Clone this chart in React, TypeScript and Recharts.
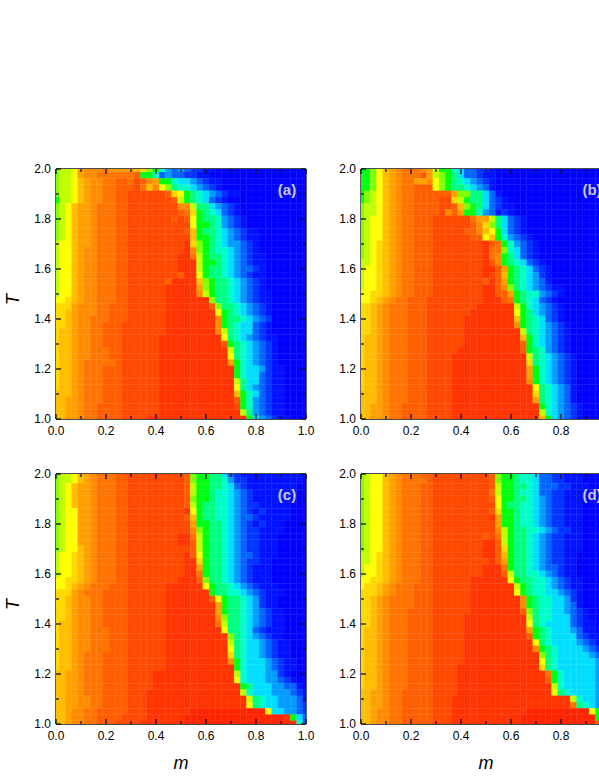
import React from "react";
import { ScatterChart, Scatter, XAxis, YAxis, ReferenceDot } from "recharts";

// Colour level codes used by the panel rows (low -> high)
const LEVEL_CODES = "0123456789abcdefghijkl";
const LEVEL_COLORS = [
  "#0000ff", "#0012ff", "#0034ff", "#0064ff", "#009cff", "#00deff", "#00ffc8", "#00ff80", "#00ff10",
  "#80ff00", "#c0ff00", "#ffff00", "#ffd800", "#ffbc00", "#ffa000", "#ff8c00", "#ff7400", "#ff5e00",
  "#ff4800", "#ff3400", "#ff2400", "#ff1400",
];

const X_TICKS = [0, 0.1, 0.2, 0.3, 0.4, 0.5, 0.6, 0.7, 0.8, 0.9, 1];
const Y_TICKS = [1, 1.1, 1.2, 1.3, 1.4, 1.5, 1.6, 1.7, 1.8, 1.9, 2];
const MAJOR_X = [0, 0.2, 0.4, 0.6, 0.8, 1];
const MAJOR_Y = [1, 1.2, 1.4, 1.6, 1.8, 2];

// 41 rows from T = 2.0 down to T = 1.0; each char = m from 0 to 1 in 0.025 steps; missing = deep blue
const PANEL_A = [
  "9aabefffgeeeedc98643432211",
  "9aabeffggggggh886343322110",
  "9aabdeffgghhgihfe8865543211",
  "9aabdeffgghhhigdfb976654321",
  "9aabdeffgghhiiiiiihcb8765432110",
  "8aabdeffgghhiiiiiiiha8765321",
  "9abdeefggghhiiiiiiiiffa7754321",
  "9abdeefggghhiiiiiiiihgc8765321",
  "9abdeefggghhiiiiiiihihb87764321",
  "9abdeefggghhiiiiiiiiiib88764321",
  "9abdeefggghhiiiiiiiiihd8776543211",
  "9abdeefggghhiiiiiiiiiid8876543211",
  "abbdeefggghhiiiiiiiiijc9876544321",
  "abbdeffggghhiiiiiiiiijf9876654321",
  "abbdeffggghhiiiiiiiijjga8776543211",
  "abbdeffggghhiiiiiiiijjja8876543211",
  "abbdeffggghhiiiiiiiijjja877654332 1",
  "abbdeffggghhiiiiiiiihjjb8776543211",
  "abbdeffggghhiiiiiihjjjjd9877654321",
  "abbdeffggghhiiiiiijjjjje9877654321",
  "abbdeffggghhiiiiiijjjjjfa8776543211",
  "bbcdeffggghhiiiiiijjjjjjj9776543211",
  "cccefffgghhhiiiiiijjjjjjjh977654321",
  "ccdefffgghhhiiiiiijjjjjjjjb87654321",
  "ccdeffggghhhiiiiiijjjjjjjjf87765432",
  "ccdeffgghhhiiiiiiijjjjjjjjf87655321",
  "cddeffgghhhiiiiiiijjjjjjjjfa7655321",
  "cddeffgghhhiiiiiijjjjjjjjjjb76543211",
  "cddeffgghhhiiiiiijjjjjjjjjjh87654321",
  "cddeffggghhiiiiiijjjjjjjjjjja7654321",
  "cddeffggghhiiiiiijjjjjjjjjjjb7654321",
  "cddefggggghiiiiiijjjjjjjjjjje8654321",
  "cddefggghhhiiiiiijjjjjjjjjjjj86554211",
  "cddefggghhhiiiiiijjjjjjjjjjjj86553211",
  "cddefggghhhiiiiiijjjjjjjjjjjja7553211",
  "cddefggghhhiiiiiijjjjjjjjjjjjb7543211",
  "dddefggghhhiiiiiijjjjjjjjjjjjd8653211",
  "ddeefggghhhiiiiiijjjjjjjjjjjjh8643211",
  "ddeefgghhhhiiiiiijjjjjjjjjjjji8643211",
  "ddeefgghhhhiiiiiijjjjjjjjjjjjja743211",
  "ddeefgghhhhiiiijjjjjjjjjjjjjjjj85432110",
];

const PANEL_B = [
  "889bdefgggfea886533221",
  "889bdefggghea9875332110",
  "889bdefggeefb987654321",
  "889bdefgghhhb987765431",
  "89abdefgghhhhhhe9977531",
  "89abdefgghhhhiica8775321",
  "9aabdefgghhhhiihd98753211",
  "9aabdefgghhhhifhe88643121",
  "9abbdefgghhhiiiiiigeea7532 1",
  "9abbdefgghhhiiiiiihfc97532 1",
  "9abbdefgghhhiiiiihhfdb85321",
  "9abbdefgghhhiiiiiihhbd864321",
  "9abcdefgghhhiiiiiiiijhg864321",
  "9abcdefgghhhiiiiiiiijgg965321",
  "9abcdefgghhhiiiiiiiijgf875321",
  "aabcdefgghhhiiiiiiiijhf8765321",
  "abbcdefgghhhiiiiiiiijjhe8765321",
  "abbcdefgghhhiiiiiiiijihd8765421",
  "abbcdefgghhhiiiiiiiihjhe876543 1",
  "abbcdefgghhhiiiiiiiijjhf976543211",
  "bbccdefgghhhiiiiiiiijjhhe87664321",
  "bbcdefgghhhiiiiiiiiijjjhg8765321",
  "ccdefggghhhiiiiiiiijjjjjja8654321",
  "ccdefggghhhiiiiiiijjjjjjjb8754321",
  "ccdefggghhhiiiiiijjjjjjjjd8765321",
  "ccdefggghhhiiiiiijjjjjjjjf87654321",
  "ccdefggghhhiiiiiijjjjjjjjja7654321",
  "cddefggghhhiiiiiijjjjjjjjjd8654321",
  "cddefggghhhiiiiiijjjjjjjjjh8654321",
  "cddefggghhhiiiiijjjjjjjjjjh8764321",
  "cddefggghhhiiiijjjjjjjjjjjja7654321",
  "cddefggghhhiiiijjjjjjjjjjjjc7654321",
  "cddefggghhhiiiijjjjjjjjjjjje8654321",
  "cddefggghhhiiiijjjjjjjjjjjje8654321",
  "cddefggghhhiiiijjjjjjjjjjjjf8654321",
  "cddefggghhhiiiijjjjjjjjjjjjjb765431",
  "dddefggghhhiiiijjjjjjjjjjjjjc765431",
  "dddefggghhhiiiijjjjjjjjjjjjje765431",
  "ddeefgghhhhiiiijjjjjjjjjjjjjj8654321",
  "ddeefgghhhhiiiijjjjjjjjjjjjjja654321",
  "ddeefgghhhhiiiijjjjjjjjjjjjjjd854321",
];

const PANEL_C = [
  "9aabdefggghhiiiiiiiiih98877532111111111100",
  "9aabdefggghhiiiiiiiiih98877642211111111100",
  "9abdeefggghhiiiiiiiiiha8877653211111111000",
  "9abdeefggghhiiiiiiiiiha8876654321111111000",
  "9abdeefggghhiiiiiiiiih98876654321111110000",
  "9abdeefggghhiiiiiiiiiha8776654322111110000",
  "9abbeefggghhiiiiiiiiijb8776654321211110000",
  "9abbeefggghhiiiiiiiiihd8776654332111110000",
  "9abbeefggghhiiiiiiiiiie8877654321211100000",
  "9abbeefggghhiiiiiiiiiif9877654322111100000",
  "9abbeefggghhiiiiiiiijjga877654322111000000",
  "9abbeefggghhiiiiiiiijjha877654322111000000",
  "9abbdefggghhiiiiiiiiiiha877654322111000000",
  "abbcdefggghhiiiiiiiiijhb87765433211100000",
  "abbcdefggghhiiiiiiiiijjc87765432211000000",
  "abbcdefggghhiiiiiiiiijje87765432111000000",
  "abbcdefggghhiiiiiiiiijjg87765432111000000",
  "bbccdefggghhiiiiiiiijjjh97765432111000000",
  "bbcdefggghhhiiiiiijjjjjjb8776543211100000",
  "cccefggghhhhiiiiiijjjjjjj8776654321110000",
  "ccdeffgghhhhiiiiiijjjjjjjhb87765421100000",
  "ccdeffgghhhhiiiiiijjjjjjjje87765421100000",
  "ccdeffgghhhhiiiiiijjjjjjjje87765432110000",
  "ccdeffgghhhhiiiiiijjjjjjjjf97765432110000",
  "cddeffgghhhhiiiiiijjjjjjjjga7765432110000",
  "cddeffggghhhiiiiiijjjjjjjjjb7765321110000",
  "cddeffggghhhiiiiiijjjjjjjjjj976543211000",
  "cddeffggghhhiiiiiijjjjjjjjjja76554321100",
  "cddeffggghhhiiiiiijjjjjjjjjjb76554321100",
  "cddefggghhhhiiiiiijjjjjjjjjjc76554321100",
  "cddefggghhhhiiiiiijjjjjjjjjjf86555432110",
  "cddefggghhhhiiiiiijjjjjjjjjjj86555432110",
  "ddeefggghhhhiiiijjjjjjjjjjjjja6555442100",
  "ddeefggghhhhiiiijjjjjjjjjjjjjb6555443210",
  "ddeefggghhhhiiiijjjjjjjjjjjjjj8755544331",
  "ddeefggghhhhiiijjjjjjjjjjjjjjja6555444321",
  "ddeeffgghhhhiiijjjjjjjjjjjjjjjja765544431",
  "ddeeffgghhhhiiijjjjjjjjjjjjjjjjb765544432",
  "ddeffgghhhhhiiijjjjjjjkkkkkkkkkkkkb554432",
  "ddeffgghhhhiiiijjjjjjkkkkkkkkkkkkkkkkj853",
  "ddeffgghhhiiiijjjjjjjkkkkkkkkkkkkkkkkkj63",
];

const PANEL_D = [
  "9abbdefggghhiiiiiiiiih98876653322111000000",
  "9abbdefgggghiiiiiiiiih98876653322111000000",
  "9abbdefggghhiiiiiiiiiha8877653332211100000",
  "9abbdefggghhiiiiiiiiiga8876653322111000000",
  "9abbdefggghhiiiiiiiiihb8877654322111000000",
  "9abbdefggghhiiiiiiiiiib8776654322111000000",
  "9abbdefggghhiiiiiiiiihc8876654322111000000",
  "9abbdefggghhiiiiiiiiije8876654322111000000",
  "9abbdefggghhiiiiiiiiiie8876654322111000000",
  "9abbdefggghhiiiiiiiiiifa877665432211000000",
  "9abbdefggghhiiiiiiiihiga877654322111000000",
  "9abbdefggghhiiiiiiiijjha877654322111000000",
  "9abbdefggghhiiiiiiiijjhc877654322111000000",
  "aabcdefggghhiiiiiiiijjhd8776543221100000",
  "aabcdefggghhiiiiiiiiijhe8776543221100000",
  "abbcdefggghhiiiiiiiijjjg8776543321100000",
  "abbcdefggghhiiiiiiiijjjha776654321100000",
  "bbccdefggghhiiiiiijjjjjjb877665432110000",
  "bccdefggghhhiiiiiijjjjjjja87665432110000",
  "cccdefggghhhiiiiiijjjjjjjb8766554321000",
  "ccdefgggghhhiiiiiijjjjjjjjf876655421000",
  "ccdefgggghhhiiiiiijjjjjjjjf876655431000",
  "ccdefggghhhhiiiiiijjjjjjjjh9766554321000",
  "ccdefggghhhhiiiiijjjjjjjjjja766555321000",
  "ccdefggghhhhiiiiijjjjjjjjjjb765555321100",
  "cddefggghhhhiiiiijjjjjjjjjje876555431100",
  "cddefggghhhhiiiiijjjjjjjjjjh876555532110",
  "cddefggghhhhiiiiijjjjjjjjjjjb76555543210",
  "cddefggghhhhiiiiijjjjjjjjjjjf87655554321",
  "cddefggghhhhiiiiijjjjjjjjjjjj9765555543",
  "cddefggghhhhiiiiijjjjjjjjjjjjb765555554",
  "cddefggghhhhiiiijjjjjjjjjjjjjc765555554",
  "cddefggghhhhiiiijjjjjjjjjjjjjjg86555554",
  "cddefggghhhhiiiijjjjjjjjjjjjjjh86555554",
  "cddefggghhhhiiiijjjjjjjjjjjjjjja6555554",
  "ddeefgghhhhhiiiijjjjjjjjjjjjjjjb7655554",
  "ddeefgghhhhhiiijjjjjjjjjjjjjjjjjjja6554",
  "ddeefgghhhhhiiijjjjjjjjjjjjjjjjjjjg7654",
  "ddeffgghhhhhiiijjjjjjjjjjjjkkkkkkkkkkb8",
  "ddeffgghhhhhiiijjjjjjjjjjjkkkkkkkkkkkk8",
  "ddeffgghhhhhiiijjjjjjjjjjjkkkkkkkkkkkkh",
];

const PLOT = 250;
const CELL = PLOT / 40;
const PLOT_LEFT = 56;
const PLOT_TOP = 39;
const CHART_W = 340;
const CHART_H = 340;
const AXIS = 1;
const FONT = "'Liberation Sans', Arial, sans-serif";

const toPoints = (rows: string[]) => {
  const pts: { m: number; T: number; fill: string }[] = [];
  rows.forEach((row, r) => {
    const clean = row.replace(/\s/g, "").padEnd(41, "0").slice(0, 41);
    for (let i = 0; i < 41; i++) {
      pts.push({ m: i / 40, T: 2 - r / 40, fill: LEVEL_COLORS[LEVEL_CODES.indexOf(clean[i])] });
    }
  });
  return pts;
};

const Cell = (props: any) => {
  const { cx, cy, payload } = props;
  const x0 = Math.max(cx - CELL / 2, PLOT_LEFT);
  const x1 = Math.min(cx + CELL / 2, PLOT_LEFT + PLOT);
  const y0 = Math.max(cy - CELL / 2, PLOT_TOP);
  const y1 = Math.min(cy + CELL / 2, PLOT_TOP + PLOT);
  return <rect x={x0} y={y0} width={x1 - x0} height={y1 - y0} fill={payload.fill} stroke={payload.fill} strokeWidth={0.3} />;
};

const near = (list: number[], v: number) => list.some((t) => Math.abs(t - v) < 1e-6);
const TICK_COLOR = "#111";
const TICK_FONT = 12;

const bottomTick = (p: any) => {
  const major = near(MAJOR_X, p.payload.value);
  return (
    <g>
      <line x1={p.x} x2={p.x} y1={p.y} y2={p.y - (major ? 5 : 3)} stroke={TICK_COLOR} strokeWidth={1.3} />
      {major && (
        <text x={p.x} y={p.y + 15.5} textAnchor="middle" fontSize={TICK_FONT} fontFamily={FONT} fill="#000">
          {p.payload.value.toFixed(1)}
        </text>
      )}
    </g>
  );
};
const topTick = (p: any) => {
  const major = near(MAJOR_X, p.payload.value);
  return <line x1={p.x} x2={p.x} y1={p.y} y2={p.y + (major ? 5 : 3)} stroke={TICK_COLOR} strokeWidth={1.3} />;
};
const leftTick = (p: any) => {
  const major = near(MAJOR_Y, p.payload.value);
  return (
    <g>
      <line x1={p.x} x2={p.x + (major ? 5 : 3)} y1={p.y} y2={p.y} stroke={TICK_COLOR} strokeWidth={1.3} />
      {major && (
        <text x={p.x - 5} y={p.y + 4.2} textAnchor="end" fontSize={TICK_FONT} fontFamily={FONT} fill="#000">
          {p.payload.value.toFixed(1)}
        </text>
      )}
    </g>
  );
};
const rightTick = (p: any) => {
  const major = near(MAJOR_Y, p.payload.value);
  return <line x1={p.x} x2={p.x - (major ? 5 : 3)} y1={p.y} y2={p.y} stroke={TICK_COLOR} strokeWidth={1.3} />;
};

const axisLine = { stroke: TICK_COLOR, strokeWidth: 1.3 };

const Panel = ({ rows, tag, left, top, showT, showM }: any) => {
  const data = toPoints(rows);
  return (
    <div style={{ position: "absolute", left: left - PLOT_LEFT, top: top - PLOT_TOP }}>
      <ScatterChart
        width={CHART_W}
        height={CHART_H}
        margin={{
          left: PLOT_LEFT - AXIS,
          top: PLOT_TOP - AXIS,
          right: CHART_W - PLOT_LEFT - PLOT - AXIS,
          bottom: CHART_H - PLOT_TOP - PLOT - AXIS,
        }}
      >
        <Scatter data={data} xAxisId="b" yAxisId="l" shape={Cell} isAnimationActive={false} />
        <XAxis xAxisId="b" type="number" dataKey="m" domain={[0, 1]} ticks={X_TICKS} height={AXIS} tickSize={0} tickMargin={0}
          tick={bottomTick} tickLine={false} axisLine={axisLine} interval={0} allowDataOverflow
          label={showM ? { value: "m", position: "bottom", offset: 31, fontSize: 18, fontStyle: "italic", fontFamily: FONT, fill: "#000" } : undefined} />
        <XAxis xAxisId="t" orientation="top" type="number" dataKey="m" domain={[0, 1]} ticks={X_TICKS} height={AXIS} tickSize={0} tickMargin={0}
          tick={topTick} tickLine={false} axisLine={axisLine} interval={0} allowDataOverflow />
        <YAxis yAxisId="l" type="number" dataKey="T" domain={[1, 2]} ticks={Y_TICKS} width={AXIS} tickSize={0} tickMargin={0}
          tick={leftTick} tickLine={false} axisLine={axisLine} interval={0} allowDataOverflow
          label={showT ? { value: "T", angle: -90, position: "left", offset: 42, fontSize: 18, fontStyle: "italic", fontFamily: FONT, fill: "#000" } : undefined} />
        <YAxis yAxisId="r" orientation="right" type="number" dataKey="T" domain={[1, 2]} ticks={Y_TICKS} width={AXIS} tickSize={0} tickMargin={0}
          tick={rightTick} tickLine={false} axisLine={axisLine} interval={0} allowDataOverflow />
        <ReferenceDot xAxisId="b" yAxisId="l" x={0.924} y={1.916} r={0} fill="none" stroke="none"
          label={{ value: tag, position: "center", fontSize: 15, fontWeight: "bold", fontFamily: FONT, fill: "#c8c8d0" }} />
      </ScatterChart>
    </div>
  );
};

export default function App() {
  return (
    <div style={{ position: "absolute", left: 0, top: 0, width: 599, height: 776, overflow: "hidden", background: "#fff" }}>
      <Panel rows={PANEL_A} tag="(a)" left={56} top={169} showT />
      <Panel rows={PANEL_B} tag="(b)" left={360.7} top={169} />
      <Panel rows={PANEL_C} tag="(c)" left={56} top={474.3} showT showM />
      <Panel rows={PANEL_D} tag="(d)" left={360.7} top={474.3} showM />
    </div>
  );
}
